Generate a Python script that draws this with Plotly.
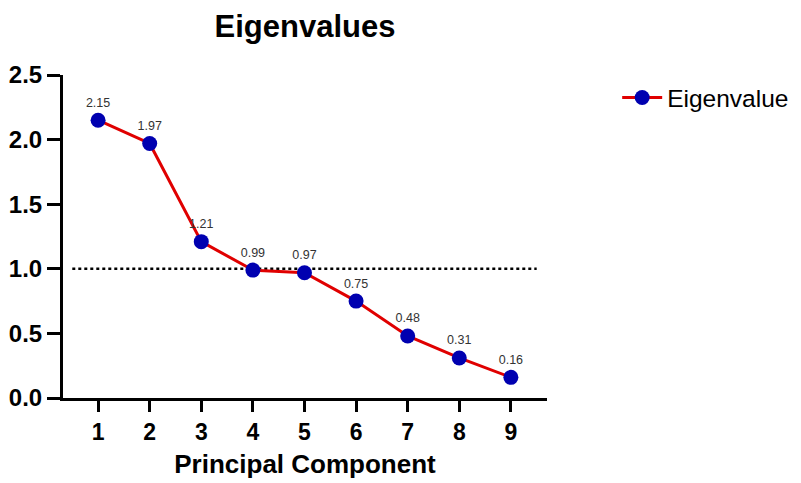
import plotly.graph_objects as go

components = [1, 2, 3, 4, 5, 6, 7, 8, 9]
eigenvalues = [2.15, 1.97, 1.21, 0.99, 0.97, 0.75, 0.48, 0.31, 0.16]
threshold = 1.0
y_ticks = [0.0, 0.5, 1.0, 1.5, 2.0, 2.5]

font_family = "Arial, Liberation Sans, sans-serif"

fig = go.Figure()
fig.add_trace(go.Scatter(
    x=components, y=eigenvalues, mode="lines+markers+text",
    name="Eigenvalue",
    line=dict(color="#E00000", width=3),
    marker=dict(color="#0000B0", size=15),
    text=[f"{v:.2f}" for v in eigenvalues],
    textposition="top center",
    textfont=dict(size=12.5, color="#333333", family=font_family),
    cliponaxis=False,
))

fig.add_shape(type="line", x0=0.5, x1=9.5, y0=threshold, y1=threshold,
              xref="x", yref="y", line=dict(color="black", width=2.5, dash="dot"),
              layer="below")

fig.update_layout(
    width=801, height=483,
    margin=dict(l=63, r=254, t=75, b=85, autoexpand=False),
    paper_bgcolor="white", plot_bgcolor="white",
    font=dict(family=font_family, color="black"),
    title=dict(text="<b>Eigenvalues</b>", x=(63 + 547) / 2 / 801, xanchor="center",
               y=1 - 26 / 483, yanchor="middle", font=dict(size=31)),
    showlegend=True,
    legend=dict(x=1.145, y=0.93, xanchor="left", yanchor="middle",
                font=dict(size=24.5), bgcolor="rgba(0,0,0,0)", itemwidth=40),
)

fig.update_xaxes(
    range=[0.32, 9.7], tickmode="array", tickvals=components,
    ticktext=[f"<b>{c}</b>" for c in components],
    showline=True, linecolor="black", linewidth=3, automargin=False,
    ticks="outside", ticklen=11, tickwidth=3, tickcolor="black",
    tickfont=dict(size=23), showgrid=False, zeroline=False,
    title=dict(text="<b>Principal Component</b>", font=dict(size=26), standoff=12),
)
fig.update_yaxes(
    range=[0, 2.5], tickmode="array", tickvals=y_ticks,
    ticktext=[f"<b>{t:.1f}</b>" for t in y_ticks],
    showline=True, linecolor="black", linewidth=3, automargin=False,
    ticks="outside", ticklen=13, tickwidth=3, tickcolor="black",
    tickfont=dict(size=24), showgrid=False, zeroline=False,
)

fig.write_html("out.html")
